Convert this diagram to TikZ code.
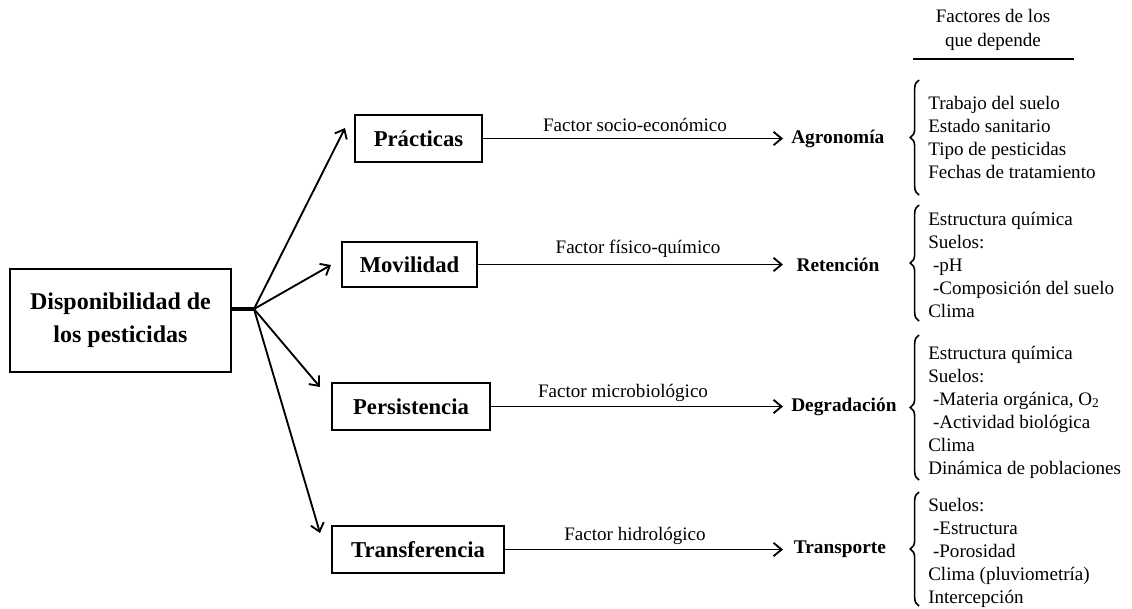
\documentclass[tikz,border=0pt]{standalone}
\usepackage{fontspec}
\setmainfont{Liberation Serif}
\usetikzlibrary{arrows.meta,decorations.pathreplacing}
\begin{document}
\begin{tikzpicture}[x=0.75pt,y=-0.75pt,
  box/.style={draw,line width=1.4pt,inner sep=0pt,font=\fontsize{17}{20}\selectfont\bfseries},
  mainbox/.style={draw,line width=1.4pt,inner sep=0pt,align=center,font=\fontsize{18}{25}\selectfont\bfseries},
  tgt/.style={anchor=west,inner xsep=6pt,font=\fontsize{14.5}{17}\selectfont\bfseries},
  lbl/.style={font=\fontsize{14.3}{17}\selectfont},
  list/.style={anchor=west,inner sep=0pt,align=left,font=\fontsize{14.3}{17.25}\selectfont},
  arr/.style={line width=1.4pt,-{Straight Barb[length=6pt,width=10pt]}},
  brc/.style={line width=1.2pt,decorate,decoration={brace,amplitude=6.5pt}},
]
\useasboundingbox (0,0) rectangle (1132,608);

% main box and hub
\node[mainbox,minimum width=165.75pt,minimum height=77.25pt] (main) at (120.5,320.5) {Disponibilidad de\\los pesticidas};
\coordinate (hub) at (254,309);
\draw[line width=3pt] (main.east |- hub) -- (hub);

% level boxes
\node[box,minimum width=95.25pt,minimum height=35.25pt] (prac) at (418.5,138.5) {Prácticas};
\node[box,minimum width=101.25pt,minimum height=33.75pt] (mov) at (409.5,264.5) {Movilidad};
\node[box,minimum width=118.5pt,minimum height=35.25pt] (pers) at (411,406.5) {Persistencia};
\node[box,minimum width=129pt,minimum height=35.25pt] (trans) at (418,549.5) {Transferencia};

% arrow ends near boxes
\coordinate (e1) at (345,128);
\coordinate (e2) at (331,265);
\coordinate (e3) at (320,387);
\coordinate (e4) at (320,533);
\draw[arr] (hub) -- (e1);
\draw[arr] (hub) -- (e2);
\draw[arr] (hub) -- (e3);
\draw[arr] (hub) -- (e4);

% targets
\node[tgt] (agro) at (783,138.5) {Agronomía};
\node[tgt,inner xsep=10pt] (ret) at (783,264.5) {Retención};
\node[tgt] (deg) at (783,406.5) {Degradación};
\node[tgt,inner xsep=8pt] (transp) at (783,549.5) {Transporte};

\draw[arr] (prac.east) -- (prac.east -| agro.west);
\draw[arr] (mov.east) -- (mov.east -| ret.west);
\draw[arr] (pers.east) -- (pers.east -| deg.west);
\draw[arr] (trans.east) -- (trans.east -| transp.west);

% factor labels
\node[lbl] (l1) at (635,125) {Factor socio-económico};
\node[lbl] (l2) at (638,249) {Factor físico-químico};
\node[lbl] (l3) at (623,393) {Factor microbiológico};
\node[lbl] (l4) at (635,536) {Factor hidrológico};

% header
\node[lbl,align=center,font=\fontsize{14.3}{18}\selectfont] (hdr) at (993,30) {Factores de los\\que depende};
\draw[line width=1.3pt] (913,59) -- (1074,59);

% lists
\node[list] (f1) at (928,137.5) {Trabajo del suelo\\Estado sanitario\\Tipo de pesticidas\\Fechas de tratamiento};
\node[list] (f2) at (928,264.5) {Estructura química\\Suelos:\\\hspace{0.25em}-pH\\\hspace{0.25em}-Composición del suelo\\Clima};
\node[list] (f3) at (928,412) {Estructura química\\Suelos:\\\hspace{0.25em}-Materia orgánica, O\textsubscript{2}\\\hspace{0.25em}-Actividad biológica\\Clima\\Dinámica de poblaciones};
\node[list] (f4) at (928,553) {Suelos:\\\hspace{0.25em}-Estructura\\\hspace{0.25em}-Porosidad\\Clima (pluviometría)\\Intercepción};

% braces
\draw[brc] (919,195) -- (919,80);
\draw[brc] (919,321) -- (919,205);
\draw[brc] (919,480) -- (919,335);
\draw[brc] (919,606) -- (919,492);
\end{tikzpicture}
\end{document}
